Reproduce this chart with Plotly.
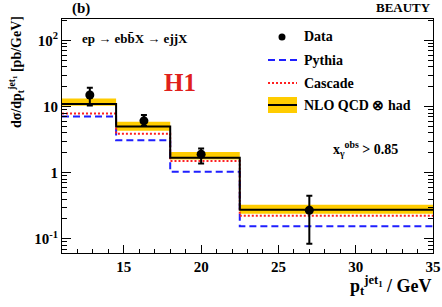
import plotly.graph_objects as go

# Data
bin_edges = [11, 14.5, 18, 22.5, 35]
nlo = [11.0, 5.0, 1.68, 0.275]
nlo_lo = [10.3, 4.3, 1.59, 0.24]
nlo_hi = [13.3, 5.9, 2.05, 0.327]
cascade = [7.85, 3.9, 1.5, 0.223]
pythia = [7.07, 3.1, 1.03, 0.155]
data_x = [12.8, 16.3, 20.0, 27.0]
data_y = [15.0, 6.1, 1.9, 0.27]
data_up = [19.3, 7.5, 2.33, 0.45]
data_dn = [10.4, 5.1, 1.38, 0.084]

ytickvals = [0.1, 1, 10, 100]
yticktext = ["10<sup>-1</sup>", "1", "10", "10<sup>2</sup>"]
xtickvals = [15, 20, 25, 30, 35]

FONT = "Liberation Serif"
YELLOW = "#FFCC00"

ymin_minor = [d * m for d in [0.01, 0.1, 1, 10, 100] for m in range(2, 10)]

def step(vals):
    return vals + [vals[-1]]

fig = go.Figure()
fig.add_trace(go.Scatter(x=bin_edges, y=step(nlo_lo), mode="lines", line_shape="hv",
                         line=dict(width=0, color=YELLOW), showlegend=False, hoverinfo="skip"))
fig.add_trace(go.Scatter(x=bin_edges, y=step(nlo_hi), mode="lines", line_shape="hv",
                         line=dict(width=0, color=YELLOW), fill="tonexty", fillcolor=YELLOW,
                         showlegend=False, hoverinfo="skip"))
fig.add_trace(go.Scatter(x=bin_edges, y=step(pythia), mode="lines", line_shape="hv",
                         line=dict(width=2, color="#1f1fff", dash="7px,4px"), showlegend=False))
fig.add_trace(go.Scatter(x=bin_edges, y=step(cascade), mode="lines", line_shape="hv",
                         line=dict(width=2, color="#ff2020", dash="2px,2px"), showlegend=False))
fig.add_trace(go.Scatter(x=bin_edges, y=step(nlo), mode="lines", line_shape="hv",
                         line=dict(width=2, color="black"), showlegend=False))
fig.add_trace(go.Scatter(x=data_x, y=data_y, mode="markers",
                         marker=dict(size=9, color="black"),
                         error_y=dict(type="data", symmetric=False,
                                      array=[u - y for u, y in zip(data_up, data_y)],
                                      arrayminus=[y - d for y, d in zip(data_y, data_dn)],
                                      thickness=2, width=3, color="black"),
                         showlegend=False))

# Legend (drawn manually in paper coords)
L = 62; R = 433; T = 19; B = 253
def px(x): return (x - L) / (R - L)
def py(y): return (B - y) / (B - T)

shapes = []
annotations = []
shapes.append(dict(type="circle", xref="paper", yref="paper",
                   x0=px(278.5), x1=px(285.5), y0=py(40.5), y1=py(33.5),
                   fillcolor="black", line=dict(color="black", width=0)))
shapes.append(dict(type="line", xref="paper", yref="paper", x0=px(268), x1=px(297), y0=py(60), y1=py(60),
                   line=dict(color="#1f1fff", width=2, dash="7px,4px")))
shapes.append(dict(type="line", xref="paper", yref="paper", x0=px(268), x1=px(297), y0=py(83), y1=py(83),
                   line=dict(color="#ff2020", width=2, dash="2px,2px")))
shapes.append(dict(type="rect", xref="paper", yref="paper", x0=px(268), x1=px(297), y0=py(113), y1=py(97),
                   fillcolor=YELLOW, line=dict(width=0)))
shapes.append(dict(type="line", xref="paper", yref="paper", x0=px(268), x1=px(297), y0=py(105), y1=py(105),
                   line=dict(color="black", width=2)))
for txt, yy in [("Data", 37), ("Pythia", 60), ("Cascade", 83), ("NLO QCD \u2297 had", 105)]:
    annotations.append(dict(text=txt, xref="paper", yref="paper", x=px(302), y=py(yy),
                            xanchor="left", yanchor="middle", showarrow=False,
                            font=dict(family=FONT, size=14, color="black", weight="bold")))

annotations += [
    dict(text="(b)", xref="paper", yref="paper", x=px(70), y=py(9), xanchor="left", yanchor="middle",
         showarrow=False, font=dict(family=FONT, size=15, color="black", weight="bold")),
    dict(text="BEAUTY", xref="paper", yref="paper", x=px(433), y=py(8), xanchor="right", yanchor="middle",
         showarrow=False, font=dict(family=FONT, size=13, color="black", weight="bold")),
    dict(text="ep \u2192 ebb\u0304X \u2192 ejjX", xref="paper", yref="paper", x=px(80), y=py(38),
         xanchor="left", yanchor="middle", showarrow=False,
         font=dict(family=FONT, size=13, color="black", weight="bold")),
    dict(text="H1", xref="paper", yref="paper", x=px(180), y=py(82), xanchor="center", yanchor="middle",
         showarrow=False, font=dict(family=FONT, size=25, color="#e0201b", weight="bold")),
    dict(text="x<sub>\u03b3</sub><sup>obs</sup> > 0.85", xref="paper", yref="paper", x=px(331), y=py(149),
         xanchor="left", yanchor="middle", showarrow=False,
         font=dict(family=FONT, size=14, color="black", weight="bold")),
    dict(text="p<sub>t</sub><sup>jet<sub>1</sub></sup> / GeV", xref="paper", yref="paper", x=px(434), y=py(285),
         xanchor="right", yanchor="middle", showarrow=False,
         font=dict(family=FONT, size=18, color="black", weight="bold")),
    dict(text="d\u03c3/dp<sub>t</sub><sup>jet<sub>1</sub></sup> [pb/GeV]", xref="paper", yref="paper",
         x=px(16), y=py(72), xanchor="center", yanchor="middle", textangle=-90, showarrow=False,
         font=dict(family=FONT, size=14, color="black", weight="bold")),
]

fig.update_layout(
    width=442, height=307,
    margin=dict(l=L, r=442 - R, t=T, b=307 - B),
    paper_bgcolor="white", plot_bgcolor="white",
    font=dict(family=FONT, size=14, color="black", weight="bold"),
    shapes=shapes, annotations=annotations, showlegend=False,
    xaxis=dict(range=[11, 35], tickvals=xtickvals, ticks="inside", ticklen=8, tickwidth=1,
               tickcolor="black", showgrid=False, zeroline=False, showline=True, linecolor="black",
               linewidth=1, mirror=True, automargin=False,
               minor=dict(dtick=1, ticks="inside", ticklen=4, tickcolor="black", showgrid=False),
               tickfont=dict(family=FONT, size=15, weight="bold")),
    yaxis=dict(type="log", range=[-1.215, 2.326], tickvals=ytickvals, ticktext=yticktext,
               ticks="inside", ticklen=9, tickwidth=1, tickcolor="black", showgrid=False,
               zeroline=False, showline=True, linecolor="black", linewidth=1, mirror="ticks",
               automargin=False,
               minor=dict(tickvals=ymin_minor, ticks="inside", ticklen=5, tickcolor="black",
                          showgrid=False),
               tickfont=dict(family=FONT, size=15, weight="bold")),
)

fig.write_html("out.html", config={"displayModeBar": False},
               post_script="document.body.style.margin='0';document.body.style.overflow='hidden';")
